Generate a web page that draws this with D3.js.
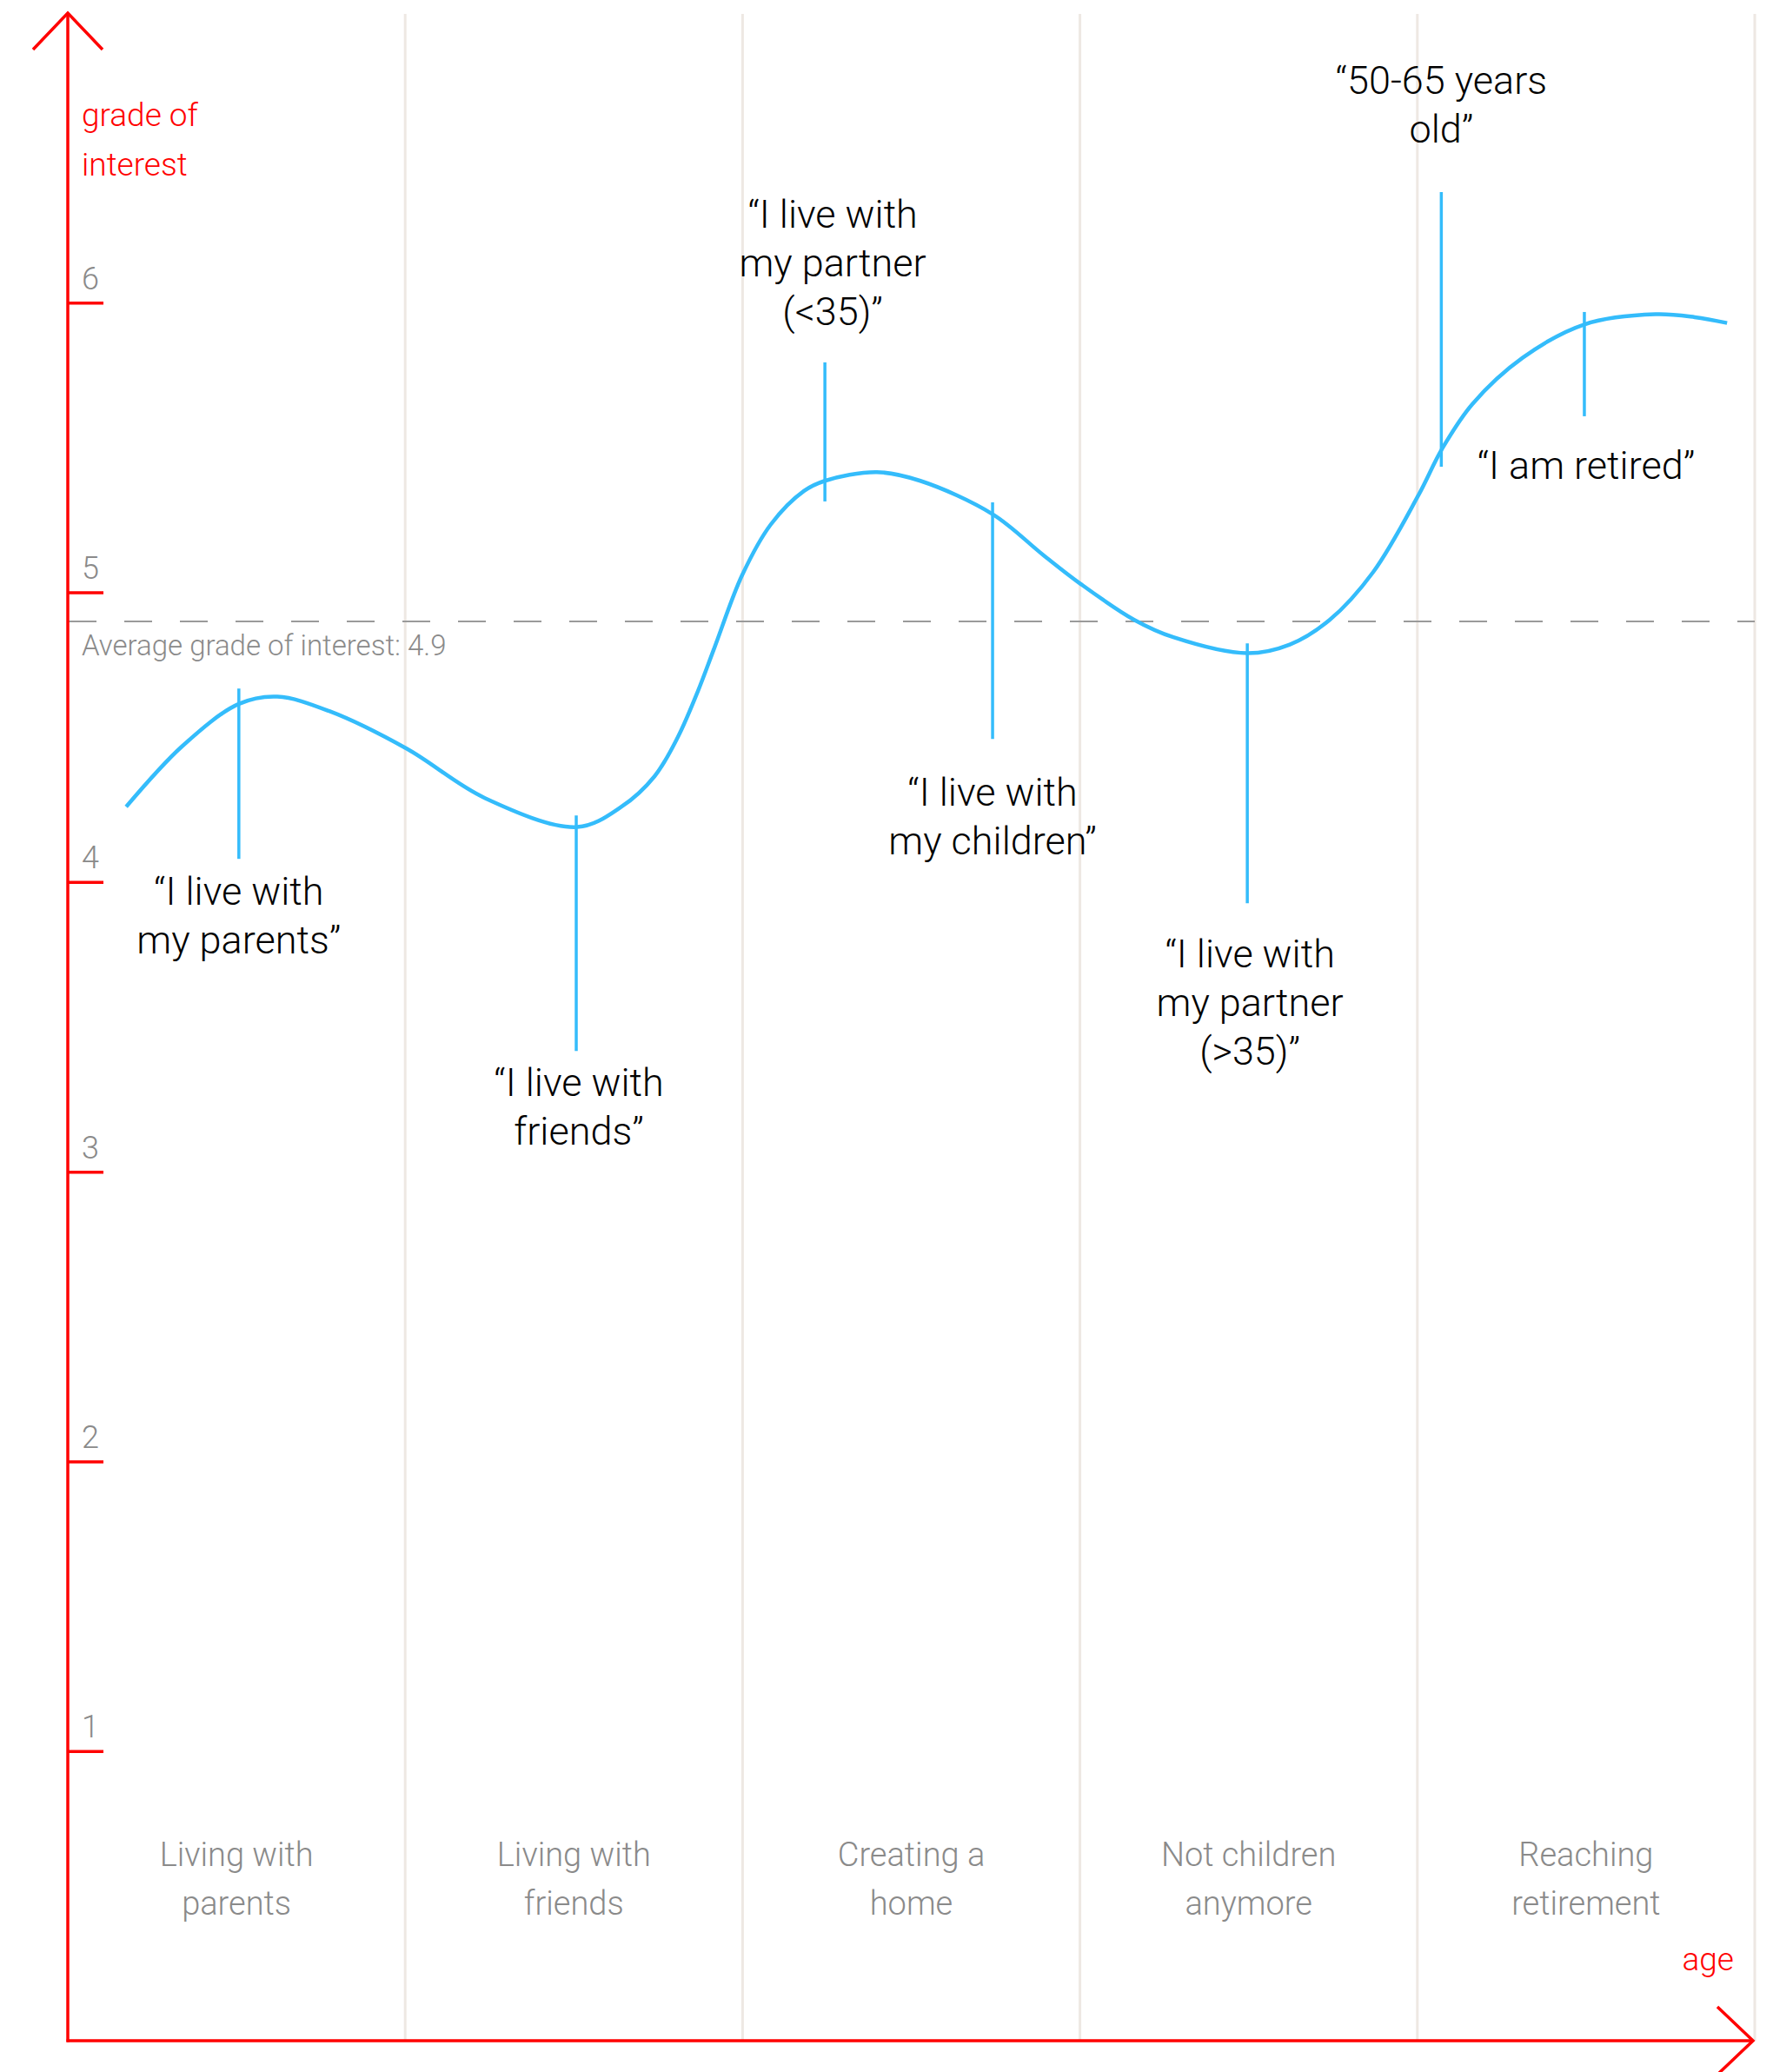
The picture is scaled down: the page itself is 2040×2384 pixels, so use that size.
<!DOCTYPE html>
<html>
<head>
<meta charset="utf-8">
<script src="https://cdn.jsdelivr.net/npm/d3@7"></script>
<style>
  html, body { margin: 0; padding: 0; background: #ffffff; }
  svg { display: block; }
</style>
</head>
<body>
<svg id="chart"></svg>
<script>
// ---------------- DATA ----------------
const stageLabels = [
  ["Living with", "parents"],
  ["Living with", "friends"],
  ["Creating a", "home"],
  ["Not children", "anymore"],
  ["Reaching", "retirement"]
];
const yTickValues = [1, 2, 3, 4, 5, 6];
const averageGrade = 4.9;

// interest curve: position along the age axis (stage units) and grade of interest
const curveAge   = [0.173, 0.340, 0.507, 0.621, 0.775, 1.005, 1.236, 1.510,
                    1.641, 1.739, 1.808, 1.868, 1.917, 1.999, 2.084, 2.182, 2.244,
                    2.398, 2.527, 2.741, 2.890, 3.001, 3.161, 3.277, 3.496, 3.622,
                    3.740, 3.869, 4.003, 4.073, 4.163, 4.312, 4.495, 4.706, 4.822, 4.918];
const curveGrade = [4.26, 4.47, 4.615, 4.64, 4.59, 4.46, 4.29, 4.19,
                    4.26, 4.365, 4.50, 4.66, 4.81, 5.06, 5.235, 5.35, 5.385,
                    5.415, 5.385, 5.27, 5.13, 5.03, 4.905, 4.845, 4.79, 4.82,
                    4.905, 5.07, 5.335, 5.495, 5.65, 5.81, 5.925, 5.96, 5.95, 5.93];

// quotes: where they sit on the age axis and the grade span of their marker
const quoteAge  = [0.507, 1.507, 2.244, 2.741, 3.496, 4.071, 4.495];
const quoteFrom = [4.668, 4.230, 5.794, 5.311, 4.824, 6.382, 5.968];
const quoteTo   = [4.080, 3.417, 5.314, 4.494, 3.927, 5.434, 5.608];
const quoteText = [
  ["“I live with", "my parents”"],
  ["“I live with", "friends”"],
  ["“I live with", "my partner", "(<35)”"],
  ["“I live with", "my children”"],
  ["“I live with", "my partner", "(>35)”"],
  ["“50-65 years", "old”"],
  ["“I am retired”"]
];

const yAxisTitle = ["grade of", "interest"];
const xAxisTitle = "age";

// ---------------- LAYOUT ----------------
const W = 2040, H = 2384;
const quoteSide = ["below", "below", "above", "below", "below", "above", "below"];
const quoteGap  = [53, 52, 43, 77, 74, 57, 72];
const quoteDx   = [0, 3, 9, 0, 3, 0, 2];
const lineH = 56;

const RED = "#ff0000";
const BLUE = "#34bcfb";
const GRAY = "#8a8a8a";
const GRID = "#eee8e3";
const FONT = "Roboto, 'Liberation Sans', Arial, sans-serif";

const svg = d3.select("#chart").attr("width", W).attr("height", H);
svg.append("rect").attr("width", W).attr("height", H).attr("fill", "#fff");

const x = d3.scaleLinear().domain([0, 5]).range([78, 2019]);
const y = d3.scaleLinear().domain([0, 7]).range([2348, 15]);

// vertical stage separators
svg.append("g").selectAll("line")
  .data(d3.range(1, 6))
  .join("line")
  .attr("x1", d => x(d)).attr("x2", d => x(d))
  .attr("y1", y(7) + 1).attr("y2", y(0))
  .attr("stroke", GRID).attr("stroke-width", 3);

// average dashed line
svg.append("line")
  .attr("x1", x(0) + 1).attr("x2", x(5))
  .attr("y1", y(averageGrade)).attr("y2", y(averageGrade))
  .attr("stroke", "#9a9a9a").attr("stroke-width", 2)
  .attr("stroke-dasharray", "32 32");

svg.append("text")
  .attr("x", x(0) + 16).attr("y", y(averageGrade) + 39)
  .attr("font-family", FONT).attr("font-weight", 300)
  .attr("font-size", 33).attr("fill", GRAY)
  .text("Average grade of interest: " + averageGrade);

// interest curve
const pts = curveAge.map((a, i) => [a, curveGrade[i]]);
svg.append("path")
  .datum(pts)
  .attr("d", d3.line().x(d => x(d[0])).y(d => y(d[1])).curve(d3.curveCatmullRom.alpha(0.5)))
  .attr("fill", "none").attr("stroke", BLUE).attr("stroke-width", 4.5);

// quote markers
svg.append("g").selectAll("line")
  .data(quoteAge)
  .join("line")
  .attr("x1", d => x(d)).attr("x2", d => x(d))
  .attr("y1", (d, i) => y(quoteFrom[i])).attr("y2", (d, i) => y(quoteTo[i]))
  .attr("stroke", BLUE).attr("stroke-width", 3.5);

// quote labels
quoteText.forEach((lines, i) => {
  const cx = x(quoteAge[i]) + quoteDx[i];
  let first;
  if (quoteSide[i] === "below") first = y(quoteTo[i]) + quoteGap[i];
  else first = y(quoteFrom[i]) - quoteGap[i] - (lines.length - 1) * lineH;
  const t = svg.append("text")
    .attr("font-family", FONT).attr("font-weight", 300)
    .attr("font-size", 45).attr("fill", "#000")
    .attr("text-anchor", "middle");
  lines.forEach((s, j) => {
    t.append("tspan").attr("x", cx).attr("y", first + j * lineH).text(s);
  });
});

// y axis ticks via d3 axis
const yAxis = d3.axisRight(y).tickValues(yTickValues).tickSize(41).tickFormat(d3.format("d"));
const gy = svg.append("g").attr("transform", `translate(${x(0)},0)`).call(yAxis);
gy.select(".domain").remove();
gy.selectAll(".tick line").attr("stroke", RED).attr("stroke-width", 3.5);
gy.selectAll(".tick text")
  .attr("x", 16).attr("y", -16).attr("dy", null)
  .attr("text-anchor", "start")
  .attr("font-family", FONT).attr("font-weight", 300)
  .attr("font-size", 36).attr("fill", GRAY);

// stage labels
stageLabels.forEach((lines, i) => {
  const t = svg.append("text")
    .attr("font-family", FONT).attr("font-weight", 300)
    .attr("font-size", 38).attr("fill", GRAY)
    .attr("text-anchor", "middle");
  lines.forEach((s, j) => {
    t.append("tspan").attr("x", x(i + 0.5)).attr("y", 2147 + j * lineH).text(s);
  });
});

// axes with arrow heads
const axisG = svg.append("g").attr("fill", "none").attr("stroke", RED).attr("stroke-width", 3.5);
axisG.append("line").attr("x1", x(0)).attr("x2", x(0)).attr("y1", y(7)).attr("y2", y(0) + 1.5);
axisG.append("line").attr("x1", x(0) - 1.5).attr("x2", x(5) - 2).attr("y1", y(0)).attr("y2", y(0));
axisG.append("polyline")
  .attr("points", `${x(0) - 40},${y(7) + 42} ${x(0)},${y(7)} ${x(0) + 40},${y(7) + 42}`)
  .attr("stroke-linejoin", "miter");
axisG.append("polyline")
  .attr("points", `${x(5) - 43},${y(0) - 39} ${x(5) - 2},${y(0)} ${x(5) - 43},${y(0) + 39}`)
  .attr("stroke-linejoin", "miter");

// axis titles
const yt = svg.append("text")
  .attr("font-family", FONT).attr("font-weight", 300)
  .attr("font-size", 37).attr("fill", RED);
yAxisTitle.forEach((s, j) => {
  yt.append("tspan").attr("x", x(0) + 16).attr("y", 145 + j * 57).text(s);
});
svg.append("text")
  .attr("x", 1995).attr("y", 2267)
  .attr("text-anchor", "end")
  .attr("font-family", FONT).attr("font-weight", 300)
  .attr("font-size", 37).attr("fill", RED)
  .text(xAxisTitle);
</script>
</body>
</html>
